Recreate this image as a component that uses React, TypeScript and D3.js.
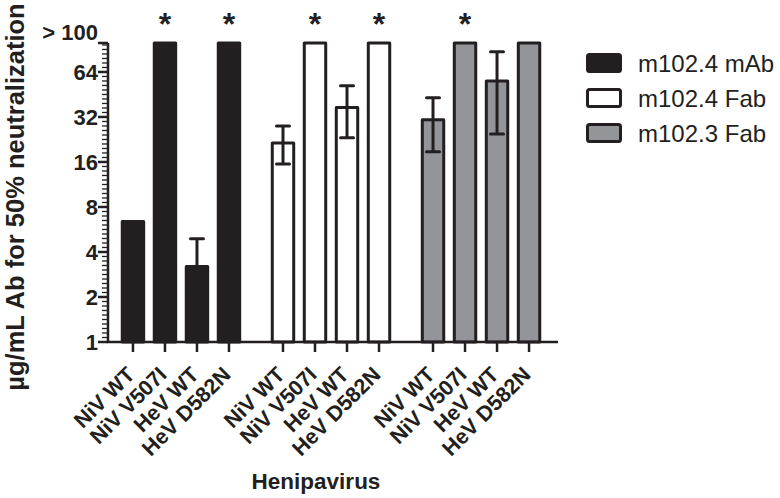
import React from "react";
import * as d3 from "d3";

const categories = ["NiV WT", "NiV V507I", "HeV WT", "HeV D582N"];
const seriesNames = ["m102.4 mAb", "m102.4 Fab", "m102.3 Fab"];
const seriesFill = ["#231f20", "#ffffff", "#939598"];

const mAbValues = [6.4, 100, 3.2, 100];
const mAbLow = [null, null, 2.2, null];
const mAbHigh = [null, null, 4.9, null];
const mAbStar = [false, true, false, true];

const fab4Values = [21.4, 100, 37, 100];
const fab4Low = [15.5, null, 23.2, null];
const fab4High = [27.9, null, 51.8, null];
const fab4Star = [false, true, false, true];

const fab3Values = [30.7, 100, 55.7, 100];
const fab3Low = [18.7, null, 24.6, null];
const fab3High = [43, null, 87.5, null];
const fab3Star = [false, true, false, false];

const yTickValues = [1, 2, 4, 8, 16, 32, 64];
const yTopLabel = "> 100";
const yLabel = "µg/mL Ab for 50% neutralization";
const xLabel = "Henipavirus";

const seriesValues = [mAbValues, fab4Values, fab3Values];
const seriesLow = [mAbLow, fab4Low, fab3Low];
const seriesHigh = [mAbHigh, fab4High, fab3High];
const seriesStar = [mAbStar, fab4Star, fab3Star];

const W = 780, H = 498;
const INK = "#231f20";
const groupGap = 0.6875;

const y = d3.scaleLog().base(2).domain([1, 100]).range([342, 43]);
const x = d3.scaleLinear().domain([-0.78, 13.28]).range([108, 558]);
const slot = (g: number, i: number) => g * (categories.length + groupGap) + i;
const barW = x(0.67) - x(0);

const minorTicks = d3.range(0, Math.log2(100) + 0.001, 0.1).map((e) => Math.pow(2, e));

export default function App() {
  const bars: any[] = [];
  seriesNames.forEach((s, g) => {
    categories.forEach((c, i) => {
      bars.push({
        g, i, c,
        v: seriesValues[g][i],
        lo: seriesLow[g][i],
        hi: seriesHigh[g][i],
        star: seriesStar[g][i],
        cx: x(slot(g, i)),
      });
    });
  });
  const font = "'Liberation Sans', Arial, Helvetica, sans-serif";
  const x0 = x(-0.78);
  return (
    <svg width={W} height={H} style={{ position: "absolute", left: 0, top: 0, background: "#fff" }}>
      {/* bars */}
      {bars.map((b, k) => (
        <rect key={"b" + k} x={b.cx - barW / 2} y={y(b.v)} width={barW} height={y(1) - y(b.v)}
          fill={seriesFill[b.g]} stroke={INK} strokeWidth={3} strokeLinejoin="round" />
      ))}
      {/* error bars */}
      {bars.filter((b) => b.hi != null).map((b, k) => (
        <g key={"e" + k} stroke={INK} strokeWidth={3}>
          <line x1={b.cx} x2={b.cx} y1={y(b.lo)} y2={y(b.hi)} />
          <line x1={b.cx - 6.5} x2={b.cx + 6.5} y1={y(b.hi)} y2={y(b.hi)} strokeLinecap="round" />
          <line x1={b.cx - 6.5} x2={b.cx + 6.5} y1={y(b.lo)} y2={y(b.lo)} strokeLinecap="round" />
        </g>
      ))}
      {/* stars */}
      {bars.filter((b) => b.star).map((b, k) => (
        <text key={"s" + k} x={b.cx} y={35} textAnchor="middle" fontFamily={font} fontWeight="bold" fontSize={32} fill={INK}>*</text>
      ))}
      {/* y axis */}
      <line x1={x0} x2={x0} y1={y(100)} y2={y(1)} stroke={INK} strokeWidth={2.5} />
      {minorTicks.map((t, k) => (
        <line key={"m" + k} x1={x0 - 6} x2={x0} y1={y(t)} y2={y(t)} stroke={INK} strokeWidth={1.3} />
      ))}
      {[...yTickValues, 100].map((t) => (
        <line key={"t" + t} x1={x0 - 10} x2={x0} y1={y(t)} y2={y(t)} stroke={INK} strokeWidth={2.5} />
      ))}
      {yTickValues.map((t) => (
        <text key={"l" + t} x={98} y={y(t)} dy="0.36em" textAnchor="end" fontFamily={font} fontWeight="bold" fontSize={22} fill={INK}>{t}</text>
      ))}
      <text x={98} y={y(100) - 11} dy="0.36em" textAnchor="end" fontFamily={font} fontWeight="bold" fontSize={22} fill={INK}>{yTopLabel}</text>
      {/* x axis */}
      <line x1={x0 - 1.25} x2={x(13.28)} y1={y(1)} y2={y(1)} stroke={INK} strokeWidth={2.5} />
      {bars.map((b, k) => (
        <line key={"xt" + k} x1={b.cx} x2={b.cx} y1={y(1)} y2={y(1) + 10} stroke={INK} strokeWidth={2.5} />
      ))}
      {bars.map((b, k) => (
        <text key={"xl" + k} transform={`translate(${b.cx + 3},${376}) rotate(-45)`} textAnchor="end"
          fontFamily={font} fontWeight="bold" fontSize={21.5} fill={INK}>{b.c}</text>
      ))}
      <text x={316} y={489} textAnchor="middle" fontFamily={font} fontWeight="bold" fontSize={22.5} fill={INK}>{xLabel}</text>
      <text transform={`translate(24,197) rotate(-90)`} textAnchor="middle"
        fontFamily={font} fontWeight="bold" fontSize={25.5} fill={INK}>{yLabel}</text>
      {/* legend */}
      {seriesNames.map((s, g) => (
        <g key={"lg" + g} transform={`translate(0,${63 + g * 35})`}>
          <rect x={587.5} y={-8.5} width={33} height={17} rx={2} fill={seriesFill[g]} stroke={INK} strokeWidth={3} />
          <text x={638} y={0} dy="0.36em" fontFamily={font} fontSize={24} fill={INK}>{s}</text>
        </g>
      ))}
    </svg>
  );
}
